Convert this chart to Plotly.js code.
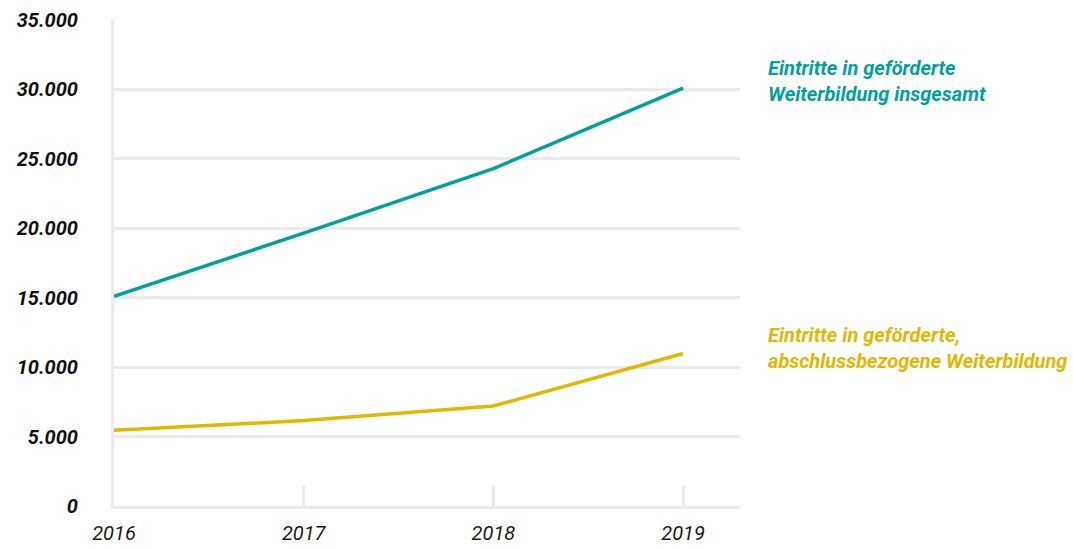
<!DOCTYPE html>
<html>
<head>
<meta charset="utf-8">
<script src="https://cdn.plot.ly/plotly-3.0.1.min.js"></script>
<style>html,body{margin:0;padding:0;background:#fff;}#chart{width:1074px;height:549px;}</style>
</head>
<body>
<div id="chart"></div>
<script>
const years = [2016, 2017, 2018, 2019];
const totalEntries = [15100, 19650, 24300, 30100];
const degreeEntries = [5450, 6150, 7200, 10980];
const yTickValues = [0, 5000, 10000, 15000, 20000, 25000, 30000, 35000];
const yTickLabels = ['0', '5.000', '10.000', '15.000', '20.000', '25.000', '30.000', '35.000'];
const seriesNames = ['Eintritte in geförderte<br>Weiterbildung insgesamt', 'Eintritte in geförderte,<br>abschlussbezogene Weiterbildung'];

const teal = '#00a19b';
const gold = '#e3b600';
const grid = '#ebebeb';
const fam = 'Roboto, "Noto Sans", sans-serif';

const traces = [
  {x: years, y: totalEntries, type: 'scatter', mode: 'lines', line: {color: teal, width: 3.5}, hoverinfo: 'skip'},
  {x: years, y: degreeEntries, type: 'scatter', mode: 'lines', line: {color: gold, width: 3.5}, hoverinfo: 'skip'}
];

const layout = {
  width: 1074, height: 549,
  margin: {l: 114, r: 334, t: 20, b: 43},
  paper_bgcolor: '#fff', plot_bgcolor: '#fff',
  showlegend: false,
  xaxis: {
    range: [2016, 2019.3],
    tickvals: years, ticktext: years.map(String),
    ticks: 'inside', ticklen: 20, tickwidth: 3, tickcolor: grid,
    showgrid: false, zeroline: false, showline: true, linecolor: grid, linewidth: 3,
    tickfont: {family: fam, size: 20, color: '#1a1a1a', style: 'italic'},
    ticklabelstandoff: 7,
    fixedrange: true
  },
  yaxis: {
    range: [0, 35000],
    tickvals: yTickValues, ticktext: yTickLabels,
    ticks: '', showgrid: true, gridcolor: grid, gridwidth: 3,
    zeroline: false, showline: true, linecolor: grid, linewidth: 3,
    tickfont: {family: fam, size: 20, color: '#111', weight: 'bold', style: 'italic'},
    ticklabelstandoff: 29,
    fixedrange: true
  },
  annotations: [
    {xref: 'paper', yref: 'paper', x: 1.042, y: 0.874, xanchor: 'left', yanchor: 'middle', align: 'left',
     text: seriesNames[0], showarrow: false,
     font: {family: fam, size: 20, color: teal, weight: 'bold', style: 'italic'}},
    {xref: 'paper', yref: 'paper', x: 1.042, y: 0.325, xanchor: 'left', yanchor: 'middle', align: 'left',
     text: seriesNames[1], showarrow: false,
     font: {family: fam, size: 20, color: gold, weight: 'bold', style: 'italic'}}
  ]
};

Plotly.newPlot('chart', traces, layout, {displayModeBar: false, staticPlot: true});
</script>
</body>
</html>
